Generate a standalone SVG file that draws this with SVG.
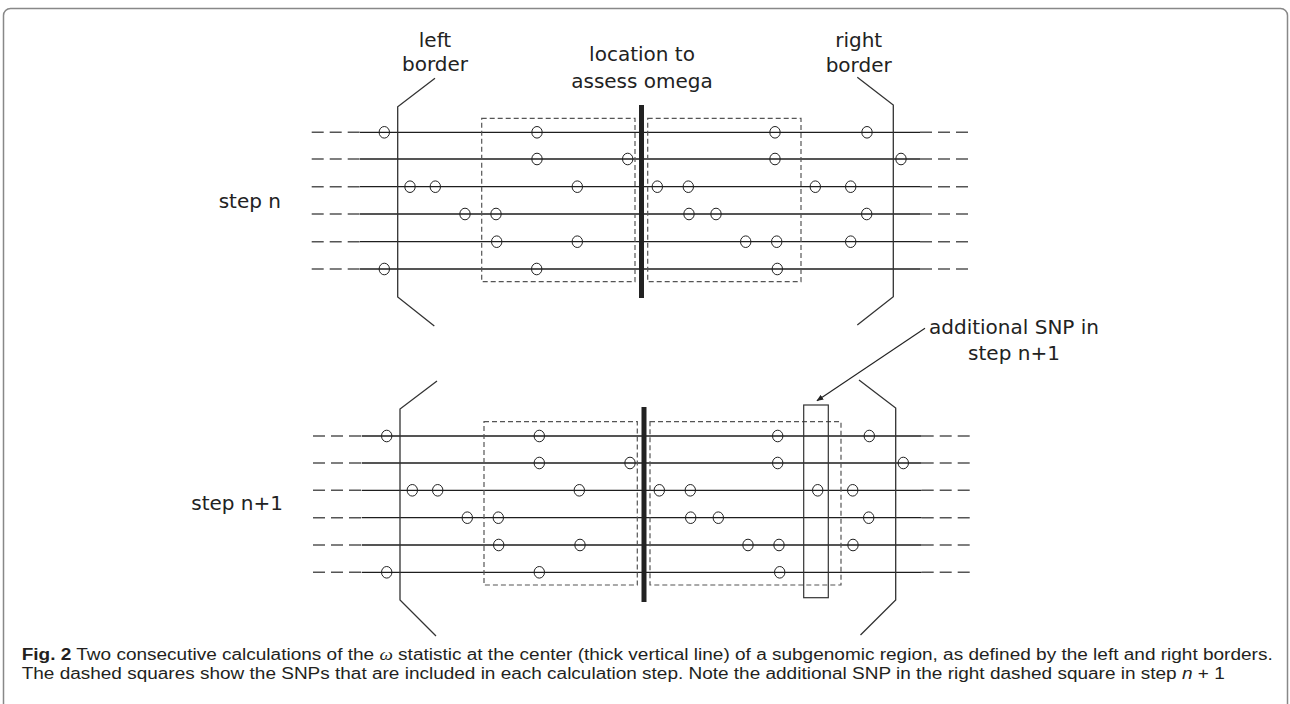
<svg xmlns="http://www.w3.org/2000/svg" width="1290" height="704" viewBox="0 0 1290 704">
  <style>
    .solid { stroke: #1e1e1e; stroke-width: 1.3; fill: none; }
    .tail { stroke: #555; stroke-width: 1.5; stroke-dasharray: 12 6; fill: none; }
    .box { stroke: #555; stroke-width: 1.2; stroke-dasharray: 5 3; fill: none; }
    .border { stroke: #333; stroke-width: 1.3; fill: none; }
    .centre { stroke: #222; stroke-width: 5; }
    .snp { stroke: #222; stroke-width: 1; fill: none; }
    .lbl { font-family: "DejaVu Sans", sans-serif; font-size: 20px; fill: #222; text-anchor: middle; }
    .side { text-anchor: end; }
    .cap { font-family: "Liberation Sans", Arial, sans-serif; font-size: 16px; fill: #231f20; }
  </style>
  <defs>
    <marker id="head" viewBox="0 0 10 10" refX="9" refY="5" markerWidth="7" markerHeight="7" orient="auto" markerUnits="userSpaceOnUse">
      <path d="M0,1 L10,5 L0,9 Z" fill="#222"/>
    </marker>
  </defs>

  <rect id="frame" x="3.5" y="8.5" width="1284" height="720" rx="7" fill="#fff" stroke="#888" stroke-width="1.5"/>

  <!-- upper panel: step n -->
  <g id="panel-step-n">
    <g id="rows-n">
      <path class="tail" d="M311.7,132.3H360M311.7,159H360M311.7,186.7H360M311.7,214H360M311.7,241.7H360M311.7,269H360"/>
      <path class="solid" d="M360,132.3H920M360,159H920M360,186.7H920M360,214H920M360,241.7H920M360,269H920"/>
      <path class="tail" d="M920,132.3H968M920,159H968M920,186.7H968M920,214H968M920,241.7H968M920,269H968"/>
    </g>
    <rect class="box" x="481.7" y="118.3" width="153.3" height="163.4"/>
    <rect class="box" x="647.7" y="118.3" width="153.3" height="163.4"/>
    <line class="centre" x1="641.5" y1="105" x2="641.5" y2="298"/>
    <path id="left-border-n" class="border" d="M435,78.3L397.7,106.7V297L434.3,326"/>
    <path id="right-border-n" class="border" d="M857.3,77.3L893.3,105V296.7L857.3,325"/>
    <g id="snps-n">
      <ellipse class="snp" cx="384.3" cy="132.3" rx="5.2" ry="5.8"/>
      <ellipse class="snp" cx="537" cy="132.3" rx="5.2" ry="5.8"/>
      <ellipse class="snp" cx="775" cy="132.3" rx="5.2" ry="5.8"/>
      <ellipse class="snp" cx="867" cy="132.3" rx="5.2" ry="5.8"/>
      <ellipse class="snp" cx="537" cy="159" rx="5.2" ry="5.8"/>
      <ellipse class="snp" cx="627.7" cy="159" rx="5.2" ry="5.8"/>
      <ellipse class="snp" cx="775" cy="159" rx="5.2" ry="5.8"/>
      <ellipse class="snp" cx="901" cy="159" rx="5.2" ry="5.8"/>
      <ellipse class="snp" cx="410" cy="186.7" rx="5.2" ry="5.8"/>
      <ellipse class="snp" cx="435.3" cy="186.7" rx="5.2" ry="5.8"/>
      <ellipse class="snp" cx="577.3" cy="186.7" rx="5.2" ry="5.8"/>
      <ellipse class="snp" cx="657.3" cy="186.7" rx="5.2" ry="5.8"/>
      <ellipse class="snp" cx="688.3" cy="186.7" rx="5.2" ry="5.8"/>
      <ellipse class="snp" cx="815.3" cy="186.7" rx="5.2" ry="5.8"/>
      <ellipse class="snp" cx="850.7" cy="186.7" rx="5.2" ry="5.8"/>
      <ellipse class="snp" cx="465" cy="214" rx="5.2" ry="5.8"/>
      <ellipse class="snp" cx="496" cy="214" rx="5.2" ry="5.8"/>
      <ellipse class="snp" cx="689" cy="214" rx="5.2" ry="5.8"/>
      <ellipse class="snp" cx="716" cy="214" rx="5.2" ry="5.8"/>
      <ellipse class="snp" cx="866.7" cy="214" rx="5.2" ry="5.8"/>
      <ellipse class="snp" cx="496.7" cy="241.7" rx="5.2" ry="5.8"/>
      <ellipse class="snp" cx="577.3" cy="241.7" rx="5.2" ry="5.8"/>
      <ellipse class="snp" cx="745.7" cy="241.7" rx="5.2" ry="5.8"/>
      <ellipse class="snp" cx="776.7" cy="241.7" rx="5.2" ry="5.8"/>
      <ellipse class="snp" cx="850.7" cy="241.7" rx="5.2" ry="5.8"/>
      <ellipse class="snp" cx="384.3" cy="269" rx="5.2" ry="5.8"/>
      <ellipse class="snp" cx="536.7" cy="269" rx="5.2" ry="5.8"/>
      <ellipse class="snp" cx="777.3" cy="269" rx="5.2" ry="5.8"/>
    </g>
    <text class="lbl side" x="281" y="208">step n</text>
  </g>

  <!-- lower panel: step n+1 -->
  <g id="panel-step-n1">
    <g id="rows-n1">
      <path class="tail" d="M313,436H361.7M313,463H361.7M313,490.3H361.7M313,517.7H361.7M313,545H361.7M313,572.3H361.7"/>
      <path class="solid" d="M361.7,436H921.7M361.7,463H921.7M361.7,490.3H921.7M361.7,517.7H921.7M361.7,545H921.7M361.7,572.3H921.7"/>
      <path class="tail" d="M921.7,436H970M921.7,463H970M921.7,490.3H970M921.7,517.7H970M921.7,545H970M921.7,572.3H970"/>
    </g>
    <rect class="box" x="484" y="421.7" width="153.3" height="163.3"/>
    <rect class="box" x="650" y="421.7" width="191" height="163.3"/>
    <rect id="new-snp" x="803.7" y="405" width="24.6" height="192.7" fill="none" stroke="#333" stroke-width="1.2"/>
    <line class="centre" x1="644" y1="407" x2="644" y2="602"/>
    <path id="left-border-n1" class="border" d="M437,381L400,409V600L436,636"/>
    <path id="right-border-n1" class="border" d="M859,380L895.7,408V600L860.5,635"/>
    <g id="snps-n1">
      <ellipse class="snp" cx="386.7" cy="436" rx="5.2" ry="5.8"/>
      <ellipse class="snp" cx="539.3" cy="436" rx="5.2" ry="5.8"/>
      <ellipse class="snp" cx="777.7" cy="436" rx="5.2" ry="5.8"/>
      <ellipse class="snp" cx="869.3" cy="436" rx="5.2" ry="5.8"/>
      <ellipse class="snp" cx="539.3" cy="463" rx="5.2" ry="5.8"/>
      <ellipse class="snp" cx="630" cy="463" rx="5.2" ry="5.8"/>
      <ellipse class="snp" cx="777.7" cy="463" rx="5.2" ry="5.8"/>
      <ellipse class="snp" cx="903.3" cy="463" rx="5.2" ry="5.8"/>
      <ellipse class="snp" cx="412.3" cy="490.3" rx="5.2" ry="5.8"/>
      <ellipse class="snp" cx="437.7" cy="490.3" rx="5.2" ry="5.8"/>
      <ellipse class="snp" cx="579.3" cy="490.3" rx="5.2" ry="5.8"/>
      <ellipse class="snp" cx="659.3" cy="490.3" rx="5.2" ry="5.8"/>
      <ellipse class="snp" cx="690.3" cy="490.3" rx="5.2" ry="5.8"/>
      <ellipse class="snp" cx="817.7" cy="490.3" rx="5.2" ry="5.8"/>
      <ellipse class="snp" cx="852.7" cy="490.3" rx="5.2" ry="5.8"/>
      <ellipse class="snp" cx="467.3" cy="517.7" rx="5.2" ry="5.8"/>
      <ellipse class="snp" cx="498.3" cy="517.7" rx="5.2" ry="5.8"/>
      <ellipse class="snp" cx="690.7" cy="517.7" rx="5.2" ry="5.8"/>
      <ellipse class="snp" cx="718.3" cy="517.7" rx="5.2" ry="5.8"/>
      <ellipse class="snp" cx="868.7" cy="517.7" rx="5.2" ry="5.8"/>
      <ellipse class="snp" cx="498.7" cy="545" rx="5.2" ry="5.8"/>
      <ellipse class="snp" cx="580" cy="545" rx="5.2" ry="5.8"/>
      <ellipse class="snp" cx="748" cy="545" rx="5.2" ry="5.8"/>
      <ellipse class="snp" cx="779" cy="545" rx="5.2" ry="5.8"/>
      <ellipse class="snp" cx="853" cy="545" rx="5.2" ry="5.8"/>
      <ellipse class="snp" cx="386.7" cy="572.3" rx="5.2" ry="5.8"/>
      <ellipse class="snp" cx="539.3" cy="572.3" rx="5.2" ry="5.8"/>
      <ellipse class="snp" cx="779.7" cy="572.3" rx="5.2" ry="5.8"/>
    </g>
    <text class="lbl side" x="283" y="510">step n+1</text>
  </g>

  <!-- annotations -->
  <g id="label-left-border">
    <text class="lbl" x="435" y="47">left</text>
    <text class="lbl" x="435" y="71">border</text>
  </g>
  <g id="label-centre">
    <text class="lbl" x="642" y="61">location to</text>
    <text class="lbl" x="642" y="88">assess omega</text>
  </g>
  <g id="label-right-border">
    <text class="lbl" x="858.7" y="47">right</text>
    <text class="lbl" x="858.7" y="72">border</text>
  </g>
  <g id="label-additional">
    <text class="lbl" x="1014" y="334">additional SNP in</text>
    <text class="lbl" x="1014" y="360">step n+1</text>
  </g>

  <g id="connectors">
    <line x1="925" y1="328.3" x2="817" y2="400.7" stroke="#222" stroke-width="1.1" marker-end="url(#head)"/>
  </g>

  <g id="caption">
    <text class="cap" x="21.7" y="659.5" textLength="1251" lengthAdjust="spacingAndGlyphs"><tspan font-weight="bold">Fig. 2</tspan> Two consecutive calculations of the <tspan font-style="italic" font-family="'Liberation Serif', serif">ω</tspan> statistic at the center (thick vertical line) of a subgenomic region, as defined by the left and right borders.</text>
    <text class="cap" x="21.7" y="678.5" textLength="1203" lengthAdjust="spacingAndGlyphs">The dashed squares show the SNPs that are included in each calculation step. Note the additional SNP in the right dashed square in step <tspan font-style="italic">n</tspan> + 1</text>
  </g>
</svg>
